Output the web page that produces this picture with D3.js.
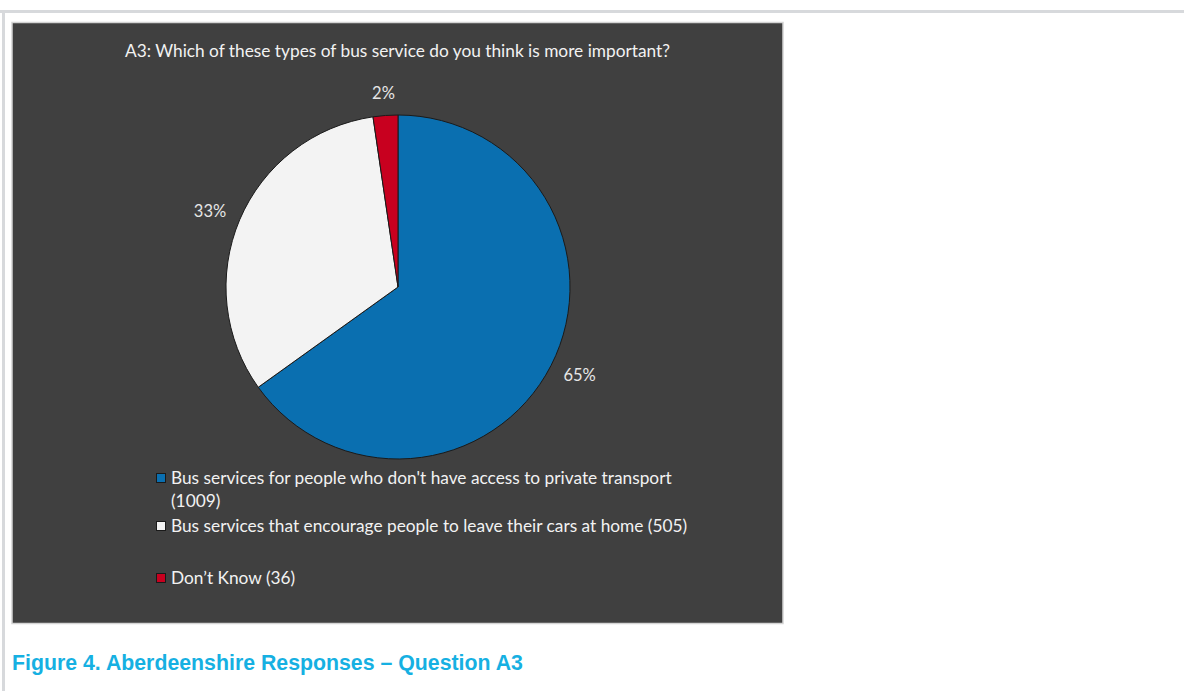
<!DOCTYPE html>
<html>
<head>
<meta charset="utf-8">
<script src="https://cdn.jsdelivr.net/npm/d3@7"></script>
<style>
  html, body { margin: 0; padding: 0; background: #ffffff; }
  svg { display: block; }
</style>
</head>
<body>
<svg id="chart" width="1184" height="691"></svg>
<script>
// Survey responses to question A3
const categories = [
  "Bus services for people who don't have access to private transport",
  "Bus services that encourage people to leave their cars at home",
  "Don\u2019t Know"
];
const counts = [1009, 505, 36];
const percentLabels = ["65%", "33%", "2%"];
const sliceColors = ["#0a6fb0", "#f3f3f3", "#c8001f"];
const chartTitle = "A3: Which of these types of bus service do you think is more important?";
const caption = "Figure 4. Aberdeenshire Responses \u2013 Question A3";

const svg = d3.select("#chart");
const textFont = "Lato, 'Open Sans', sans-serif";

// page rules
svg.append("rect").attr("x", 0).attr("y", 10).attr("width", 1184).attr("height", 3).attr("fill", "#d7d9dc");
svg.append("rect").attr("x", 2).attr("y", 10).attr("width", 3).attr("height", 681).attr("fill", "#d7d9dc");

// chart panel
svg.append("rect")
  .attr("x", 12).attr("y", 22.5).attr("width", 771).attr("height", 601)
  .attr("fill", "#404040").attr("stroke", "#d4d4d4").attr("stroke-width", 1.5);

svg.append("text")
  .attr("x", 397.5).attr("y", 57)
  .attr("text-anchor", "middle")
  .attr("font-family", textFont).attr("font-size", 17.3)
  .attr("fill", "#f2f2f2")
  .text(chartTitle);

// pie
const cx = 398, cy = 287, radius = 172, labelGap = 16;
const pie = d3.pie().sort(null).value(d => d)(counts);
const arc = d3.arc().innerRadius(0).outerRadius(radius);

const g = svg.append("g").attr("transform", `translate(${cx},${cy})`);
g.selectAll("path.slice")
  .data(pie)
  .join("path")
  .attr("class", "slice")
  .attr("d", arc)
  .attr("fill", (d, i) => sliceColors[i])
  .attr("stroke", "#1a1a1a")
  .attr("stroke-width", 1);

// percentage labels sit just outside the rim, pushed out by half their box
g.selectAll("text.pct")
  .data(pie)
  .join("text")
  .attr("class", "pct")
  .attr("text-anchor", "middle")
  .attr("dy", "0.35em")
  .attr("font-family", textFont).attr("font-size", 16.5)
  .attr("fill", "#e6e6e6")
  .text((d, i) => percentLabels[i])
  .each(function (d) {
    const box = this.getBBox();
    const a = (d.startAngle + d.endAngle) / 2;
    const ux = Math.sin(a), uy = -Math.cos(a);
    const x = (radius + labelGap) * ux + ux * box.width / 2;
    const y = (radius + labelGap) * uy + uy * 6;
    d3.select(this).attr("x", x).attr("y", y);
  });

// legend
const legendX = 156;
const legendLines = [
  { idx: 0, lines: [categories[0], "(" + counts[0] + ")"], y: 484 },
  { idx: 1, lines: [categories[1] + " (" + counts[1] + ")"], y: 532 },
  { idx: 2, lines: [categories[2] + " (" + counts[2] + ")"], y: 584 }
];
const legend = svg.append("g");
legendLines.forEach(item => {
  legend.append("rect")
    .attr("x", legendX + 0.5).attr("y", item.y - 10.5)
    .attr("width", 9).attr("height", 9)
    .attr("fill", sliceColors[item.idx])
    .attr("stroke", "#1a1a1a").attr("stroke-width", 1);
  item.lines.forEach((line, j) => {
    legend.append("text")
      .attr("x", legendX + 15).attr("y", item.y + j * 23)
      .attr("font-family", textFont).attr("font-size", 17.3)
      .attr("fill", "#f2f2f2")
      .text(line);
  });
});

// figure caption
svg.append("text")
  .attr("x", 12).attr("y", 670)
  .attr("font-family", "'Liberation Sans', Arial, sans-serif")
  .attr("font-weight", "bold").attr("font-size", 21.3)
  .attr("fill", "#16b0e2")
  .text(caption);
</script>
</body>
</html>
